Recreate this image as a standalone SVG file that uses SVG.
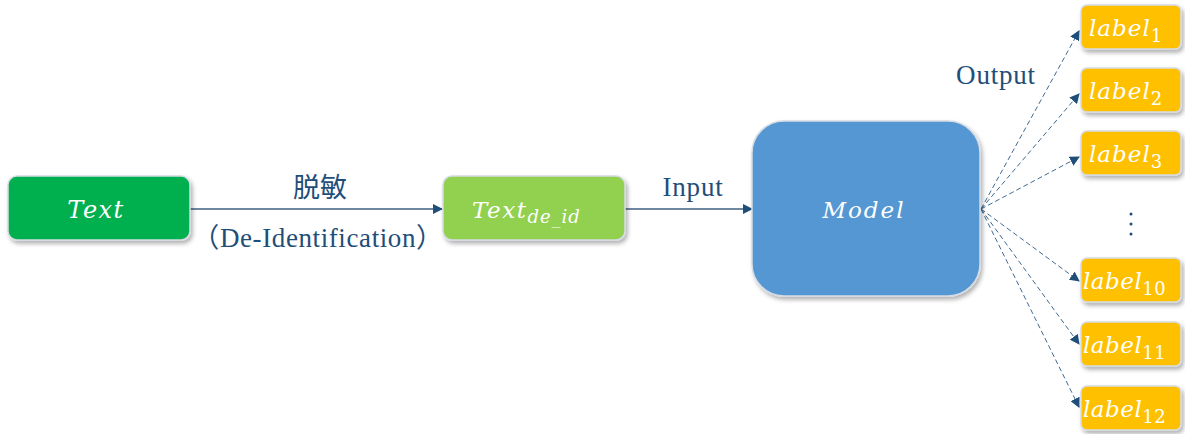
<svg xmlns="http://www.w3.org/2000/svg" width="1185" height="434" viewBox="0 0 1185 434">
  <style>
    .box { stroke: #D6DCE4; stroke-width: 1.5; filter: url(#shadow); }
    .math { font-family: "DejaVu Serif", "Liberation Serif", serif; font-style: italic; fill: #FFFFFF; }
    .sub { font-family: "DejaVu Serif", "Liberation Serif", serif; font-style: normal; fill: #FFFFFF; }
    .lbl { font-family: "Liberation Serif", "Noto Sans CJK SC", serif; fill: #1F4E79; font-size: 27px; }
    .solid { stroke: #3F5F80; stroke-width: 1.3; fill: none; marker-end: url(#arrow); }
    .dash { stroke: #3F6A94; stroke-width: 1; stroke-dasharray: 5 3; fill: none; marker-end: url(#arrow); }
  </style>
  <defs>
    <filter id="shadow" x="-10%" y="-10%" width="125%" height="130%">
      <feDropShadow dx="2" dy="3" stdDeviation="2" flood-color="#000000" flood-opacity="0.3"/>
    </filter>
    <marker id="arrow" viewBox="0 0 10 10" refX="9" refY="5" markerWidth="10" markerHeight="10" markerUnits="userSpaceOnUse" orient="auto">
      <path d="M0,0 L10,5 L0,10 Z" fill="#1F4E79"/>
    </marker>
  </defs>

  <rect width="1185" height="434" fill="#FFFFFF"/>

  <!-- connectors -->
  <g id="connectors">
    <line class="solid" x1="190" y1="209" x2="442" y2="209"/>
    <line class="solid" x1="625" y1="209" x2="752" y2="209"/>
    <line class="dash" x1="981" y1="209" x2="1079" y2="31"/>
    <line class="dash" x1="981" y1="209" x2="1079" y2="94"/>
    <line class="dash" x1="981" y1="209" x2="1079" y2="157"/>
    <line class="dash" x1="981" y1="209" x2="1079" y2="281"/>
    <line class="dash" x1="981" y1="209" x2="1079" y2="344"/>
    <line class="dash" x1="981" y1="209" x2="1079" y2="407"/>
  </g>

  <!-- connector labels -->
  <g id="edge-labels">
    <text class="lbl" x="320" y="197" text-anchor="middle" font-family="Noto Sans CJK SC, sans-serif" font-size="26">脱敏</text>
    <text class="lbl" x="318" y="247" text-anchor="middle" letter-spacing="0.6">（De-Identification）</text>
    <text class="lbl" x="693" y="196" text-anchor="middle" letter-spacing="0.8">Input</text>
    <text class="lbl" x="996" y="84" text-anchor="middle" letter-spacing="0.8">Output</text>
  </g>

  <g id="node-text">
    <rect class="box" x="8" y="176" width="182" height="64" rx="9" fill="#00B050"/>
    <text class="math" x="96" y="218" font-size="24" text-anchor="middle" letter-spacing="1.5">Text</text>
  </g>

  <g id="node-text-deid">
    <rect class="box" x="443" y="176" width="182" height="64" rx="9" fill="#92D050"/>
    <text class="math" x="472" y="218" font-size="23" letter-spacing="1.5">Text<tspan font-size="18" dy="5" letter-spacing="1">de_id</tspan></text>
  </g>

  <g id="node-model">
    <rect class="box" x="752" y="121" width="228" height="175" rx="32" fill="#5597D3"/>
    <text class="math" x="864" y="218" font-size="23" text-anchor="middle" letter-spacing="2">Model</text>
  </g>

  <g id="node-label1">
    <rect class="box" x="1081" y="5" width="100" height="44" rx="6" fill="#FFC000"/>
    <text class="math" x="1089" y="36" font-size="23" letter-spacing="1">label<tspan class="sub" font-size="18" dy="6">1</tspan></text>
  </g>
  <g id="node-label2">
    <rect class="box" x="1081" y="68" width="100" height="44" rx="6" fill="#FFC000"/>
    <text class="math" x="1089" y="99" font-size="23" letter-spacing="1">label<tspan class="sub" font-size="18" dy="6">2</tspan></text>
  </g>
  <g id="node-label3">
    <rect class="box" x="1081" y="131" width="100" height="44" rx="6" fill="#FFC000"/>
    <text class="math" x="1089" y="162" font-size="23" letter-spacing="1">label<tspan class="sub" font-size="18" dy="6">3</tspan></text>
  </g>
  <g id="node-label10">
    <rect class="box" x="1081" y="258" width="100" height="44" rx="6" fill="#FFC000"/>
    <text class="math" x="1083" y="289" font-size="23" letter-spacing="0.5">label<tspan class="sub" font-size="18" dy="6">10</tspan></text>
  </g>
  <g id="node-label11">
    <rect class="box" x="1081" y="322" width="100" height="44" rx="6" fill="#FFC000"/>
    <text class="math" x="1083" y="353" font-size="23" letter-spacing="0.5">label<tspan class="sub" font-size="18" dy="6">11</tspan></text>
  </g>
  <g id="node-label12">
    <rect class="box" x="1081" y="386" width="100" height="44" rx="6" fill="#FFC000"/>
    <text class="math" x="1083" y="417" font-size="23" letter-spacing="0.5">label<tspan class="sub" font-size="18" dy="6">12</tspan></text>
  </g>

  <!-- vertical ellipsis between label3 and label10 -->
  <g id="ellipsis" fill="#1F4E79">
    <circle cx="1131" cy="214" r="1.5"/>
    <circle cx="1131" cy="224" r="1.5"/>
    <circle cx="1131" cy="234" r="1.5"/>
  </g>
</svg>
